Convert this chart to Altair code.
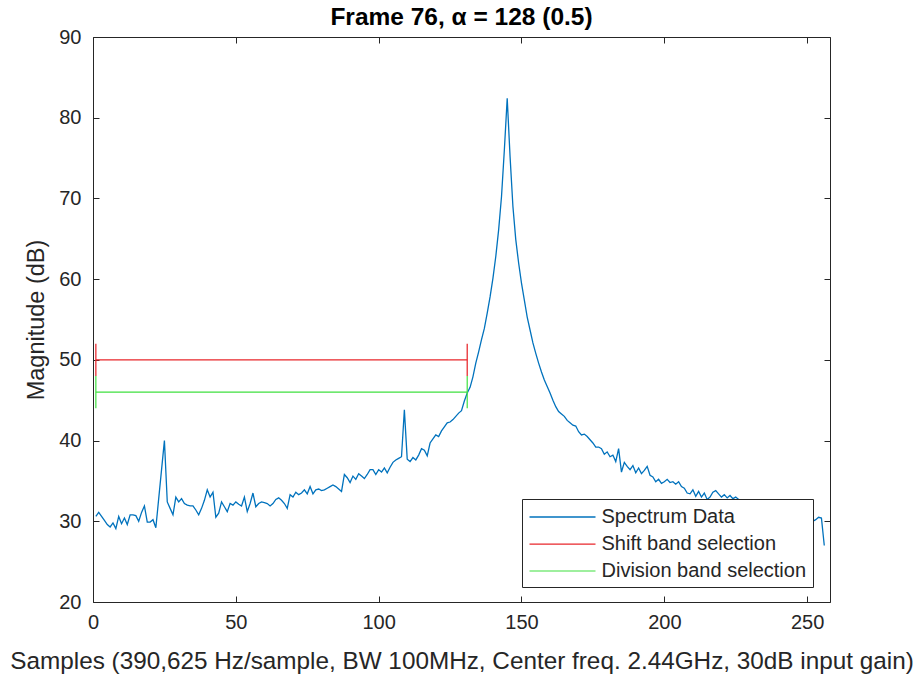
import altair as alt
import pandas as pd

# ---------------- data ----------------
samples = list(range(1, 257))
magnitude = [
    30.6, 31.1, 30.6, 30.1, 29.6, 29.3, 29.8, 29.1, 30.6, 29.7,
    30.4, 29.6, 30.8, 30.8, 30.7, 30.0, 31.1, 31.9, 29.9, 29.9,
    30.2, 29.2, 32.8, 36.4, 40.0, 32.4, 31.6, 30.8, 33.0, 32.4,
    32.8, 32.2, 32.0, 31.9, 31.9, 31.4, 30.8, 31.6, 32.6, 33.9,
    33.0, 33.6, 30.5, 31.0, 32.4, 31.8, 31.2, 32.2, 32.0, 32.4,
    32.1, 31.9, 33.0, 31.2, 32.2, 33.5, 31.8, 32.2, 32.4, 32.3,
    32.2, 31.9, 32.2, 32.7, 32.9, 32.6, 32.2, 31.6, 33.3, 33.0,
    33.6, 33.3, 33.5, 33.9, 33.4, 34.3, 33.4, 33.9, 34.0, 33.8,
    33.9, 34.1, 34.3, 34.5, 34.3, 34.0, 33.7, 35.8, 35.4, 34.8,
    35.6, 35.2, 35.9, 35.6, 35.3, 35.8, 36.4, 36.4, 35.8, 36.4,
    36.1, 36.6, 36.0, 36.7, 37.3, 37.6, 37.8, 38.0, 43.8, 37.7,
    37.4, 37.9, 37.6, 38.2, 39.0, 38.8, 38.1, 39.7, 40.2, 40.7,
    40.5, 41.2, 41.7, 42.2, 42.3, 42.6, 43.0, 43.4, 43.7, 44.9,
    45.9, 46.6, 47.9, 49.6, 51.0, 52.5, 53.9, 55.8, 57.8, 60.1,
    62.8, 66.1, 70.2, 76.0, 82.4, 75.2, 69.0, 64.9, 62.0, 59.5,
    57.4, 55.3, 53.7, 52.1, 50.8, 49.6, 48.5, 47.5, 46.7, 45.9,
    45.0, 44.2, 43.6, 43.3, 43.0, 42.5, 42.2, 41.9, 41.8, 41.1,
    40.7, 40.8, 40.5, 40.1, 39.7, 39.2, 39.2, 39.0, 38.3, 38.6,
    38.0, 38.2, 37.4, 39.0, 36.1, 37.3, 36.8, 36.4, 36.9, 36.0,
    36.6, 35.9, 36.3, 36.8, 35.7, 35.5, 34.9, 35.2, 34.7, 34.9,
    35.2, 34.8, 34.9, 34.6, 34.9, 34.3, 34.1, 33.5, 33.4, 33.9,
    33.1, 33.7, 33.0, 33.5, 32.7, 33.0, 33.6, 33.8, 33.4, 33.0,
    33.3, 32.9, 33.2, 32.8, 33.0, 32.7, 32.6, 32.4, 32.5, 32.2,
    32.0, 32.3, 31.9, 31.8, 31.9, 31.6, 31.5, 31.7, 31.3, 31.2,
    31.4, 31.0, 30.9, 31.1, 30.8, 30.7, 30.9, 30.5, 30.4, 30.6,
    30.2, 30.0, 30.2, 30.5, 30.4, 27.0,
]

series_names = ["Spectrum Data", "Shift band selection", "Division band selection"]
series_colors = ["#0072BD", "#E8262B", "#3FE03F"]
series_widths = [1.3, 1.2, 1.8]

band_names = ["Shift band selection", "Division band selection"]
band_start = [1, 1]
band_end = [131, 131]
band_level = [50, 46]
band_low = [48, 44]
band_high = [52, 48]

x_ticks = [0, 50, 100, 150, 200, 250]
y_ticks = [20, 30, 40, 50, 60, 70, 80, 90]
x_domain = [0, 258]
y_domain = [20, 90]

title_text = "Frame 76, \u03b1 = 128 (0.5)"
x_title = "Samples (390,625 Hz/sample, BW 100MHz, Center freq. 2.44GHz, 30dB input gain)"
y_title = "Magnitude (dB)"

# ---------------- tables ----------------
spec_df = pd.DataFrame({"x": samples, "y": magnitude, "series": series_names[0]})
band_df = pd.DataFrame({
    "series": band_names, "start": band_start, "end": band_end,
    "level": band_level, "low": band_low, "high": band_high,
})
cap_rows = []
for n, s, e, lo, hi in zip(band_names, band_start, band_end, band_low, band_high):
    cap_rows.append({"series": n, "xc": s, "low": lo, "high": hi})
    cap_rows.append({"series": n, "xc": e, "low": lo, "high": hi})
cap_df = pd.DataFrame(cap_rows)

# ---------------- style ----------------
FONT = "Liberation Sans"
AX = "#262626"
TICK = alt.ExprRef(expr="-6")

xscale = alt.Scale(domain=x_domain, nice=False, zero=False)
yscale = alt.Scale(domain=y_domain, nice=False, zero=False)
cscale = alt.Scale(domain=series_names, range=series_colors)
wscale = alt.Scale(domain=series_names, range=series_widths)

legend = alt.Legend(
    title=None, orient="none", legendX=429, legendY=462,
    padding=6, strokeColor=AX, fillColor="white", cornerRadius=0,
    symbolType="M-3,0H3", symbolSize=484, symbolStrokeWidth=1.2,
    symbolOffset=22.5, labelOffset=27, rowPadding=5,
    labelFont=FONT, labelFontSize=20, labelColor=AX, labelLimit=400,
)

common_axis = dict(
    grid=False, domainColor=AX, domainWidth=1, tickColor=AX, tickWidth=1,
    tickSize=TICK, labelFont=FONT, labelFontSize=20, labelColor=AX,
    titleFont=FONT, titleFontWeight="normal", titleColor=AX,
    labelFlush=False, labelOverlap=False,
)

bottom_axis = alt.Axis(orient="bottom", values=x_ticks, title=x_title,
                       labelPadding=16, titlePadding=17, titleFontSize=24.3,
                       **common_axis)
left_axis = alt.Axis(orient="left", values=y_ticks, title=y_title,
                     labelPadding=18, titlePadding=10, titleFontSize=23.5,
                     **common_axis)
top_axis = alt.Axis(orient="top", values=x_ticks, title=None, labels=False, **common_axis)
right_axis = alt.Axis(orient="right", values=y_ticks, title=None, labels=False, **common_axis)

color_enc = alt.Color("series:N", scale=cscale, legend=legend)
width_enc = alt.StrokeWidth("series:N", scale=wscale, legend=None)

line = alt.Chart(spec_df).mark_line().encode(
    x=alt.X("x:Q", scale=xscale, axis=bottom_axis),
    y=alt.Y("y:Q", scale=yscale, axis=left_axis),
    color=color_enc,
    strokeWidth=width_enc,
)

hbars = alt.Chart(band_df).mark_rule().encode(
    x=alt.X("start:Q", scale=xscale, axis=top_axis),
    x2="end:Q",
    y=alt.Y("level:Q", scale=yscale, axis=right_axis),
    color=color_enc,
    strokeWidth=width_enc,
)

caps = alt.Chart(cap_df).mark_rule().encode(
    x=alt.X("xc:Q", scale=xscale, axis=None),
    y=alt.Y("low:Q", scale=yscale, axis=None),
    y2="high:Q",
    color=color_enc,
    strokeWidth=width_enc,
)

chart = (
    alt.layer(line, hbars, caps)
    .resolve_axis(x="independent", y="independent")
    .properties(
        width=737, height=565,
        autosize=alt.AutoSizeParams(type="none"),
        padding={"left": 93, "top": 37, "right": 90, "bottom": 77},
        title=alt.Title(title_text, font=FONT, fontSize=24.5, fontWeight="bold",
                        color="black", anchor="middle", frame="group",
                        offset=9, dy=12),
        background="white",
    )
    .configure_view(stroke=None)
)

chart.save("out.html", embed_options={"renderer": "svg", "actions": False})
